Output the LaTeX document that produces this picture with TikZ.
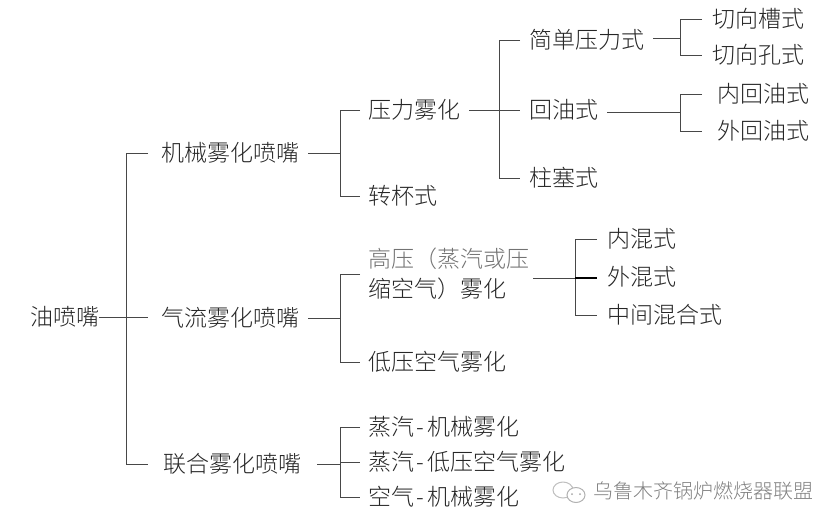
\documentclass[tikz,border=0pt]{standalone}
\usepackage{fontspec}
\setmainfont{Noto Sans CJK SC}[UprightFont=* Light]
\newcommand{\hy}{\kern3pt-\kern3pt}
\begin{document}
\begin{tikzpicture}[x=1pt,y=-1pt,
  lbl/.style={anchor=west,inner sep=0pt,outer sep=0pt,font=\fontsize{23}{23}\selectfont,text=black!85,text height=20pt,text depth=3pt},
  conn/.style={draw=black!72,line width=0.95pt,line join=miter}]
\useasboundingbox (0,0) rectangle (838,528);
% nodes
\node[lbl] (root) at (30,317) {油喷嘴};
\node[lbl] (jx) at (161,153) {机械雾化喷嘴};
\node[lbl] (ql) at (161,318) {气流雾化喷嘴};
\node[lbl] (lh) at (163,464) {联合雾化喷嘴};
\node[lbl] (yl) at (368,110) {压力雾化};
\node[lbl] (zb) at (368,196) {转杯式};
\node[lbl,text=black!55] (gy) at (368,259) {高压（蒸汽或压};
\node[lbl] (gy2) at (368,289) {缩空气）雾化};
\node[lbl] (dy) at (368,362) {低压空气雾化};
\node[lbl] (zj) at (368,427) {蒸汽\hy 机械雾化};
\node[lbl] (zd) at (368,462) {蒸汽\hy 低压空气雾化};
\node[lbl] (kj) at (368,497) {空气\hy 机械雾化};
\node[lbl] (jd) at (529,40) {简单压力式};
\node[lbl] (hy) at (529,110) {回油式};
\node[lbl] (zs) at (529,178) {柱塞式};
\node[lbl] (qc) at (712,19) {切向槽式};
\node[lbl] (qk) at (712,55) {切向孔式};
\node[lbl] (nh) at (717,94) {内回油式};
\node[lbl] (wh) at (717,131) {外回油式};
\node[lbl] (nx) at (607,239) {内混式};
\node[lbl] (wx) at (607,277) {外混式};
\node[lbl] (zx) at (607,315) {中间混合式};
% bus positions
\coordinate (b1) at (126,317);
\coordinate (b2) at (340,153);
\coordinate (b3) at (340,318);
\coordinate (b3t) at (340,274);
\coordinate (b4) at (340,464);
\coordinate (b5) at (499,110);
\coordinate (b6) at (680,38);
\coordinate (b7) at (680,112);
\coordinate (b8) at (575,278);
% root level
\draw[conn,shorten >=13pt] (root.east) -- (root.east -| ql.west);
\draw[conn] ([xshift=-13pt]jx.west) -- (jx.west -| b1) -- (lh.west -| b1) -- ([xshift=-15pt]lh.west);
% second level
\draw[conn,shorten <=9pt] (jx.east) -- (b2);
\draw[conn] ([xshift=-8pt]yl.west) -- (yl.west -| b2) -- (zb.west -| b2) -- ([xshift=-8pt]zb.west);
\draw[conn,shorten <=9pt] (ql.east) -- (b3);
\draw[conn] ([xshift=-8pt]b3t -| gy.west) -- (b3t) -- (dy.west -| b3) -- ([xshift=-8pt]dy.west);
\draw[conn,shorten <=16pt] (lh.east) -- (b4);
\draw[conn] ([xshift=-8pt]zj.west) -- (zj.west -| b4) -- (kj.west -| b4) -- ([xshift=-8pt]kj.west);
\draw[conn,shorten >=8pt] (zd.west -| b4) -- (zd.west);
% third level
\draw[conn,shorten <=9pt,shorten >=9pt] (yl.east) -- (hy.west);
\draw[conn] ([xshift=-9pt]jd.west) -- (jd.west -| b5) -- (zs.west -| b5) -- ([xshift=-9pt]zs.west);
% fourth level
\draw[conn,shorten <=9pt] (b6 -| jd.east) -- (b6);
\draw[conn] ([xshift=-10pt]qc.west) -- (qc.west -| b6) -- (qk.west -| b6) -- ([xshift=-10pt]qk.west);
\draw[conn,shorten <=9pt] (b7 -| hy.east) -- (b7);
\draw[conn] ([xshift=-15pt]nh.west) -- (nh.west -| b7) -- (wh.west -| b7) -- ([xshift=-15pt]wh.west);
\draw[conn,shorten <=4pt] (b8 -| gy.east) -- (b8);
\draw[conn] ([xshift=-10pt]nx.west) -- (nx.west -| b8) -- (zx.west -| b8) -- ([xshift=-10pt]zx.west);
\draw[conn,line width=1.5pt,draw=black,shorten >=10pt] (b8) -- (b8 -| wx.west);
% watermark
\node[anchor=west,inner sep=0pt,font=\fontsize{20}{20}\selectfont,text=black!50] (wm) at (593,491) {乌鲁木齐锅炉燃烧器联盟};
\draw[black!25,line width=1pt,fill=white] (563,490) ellipse (10pt and 8pt);
\draw[black!30,line width=1pt,fill=white] (576,495) ellipse (9pt and 7.5pt);
\fill[black!35] (572,494) circle (1pt) (580,494) circle (1pt);
\end{tikzpicture}
\end{document}
